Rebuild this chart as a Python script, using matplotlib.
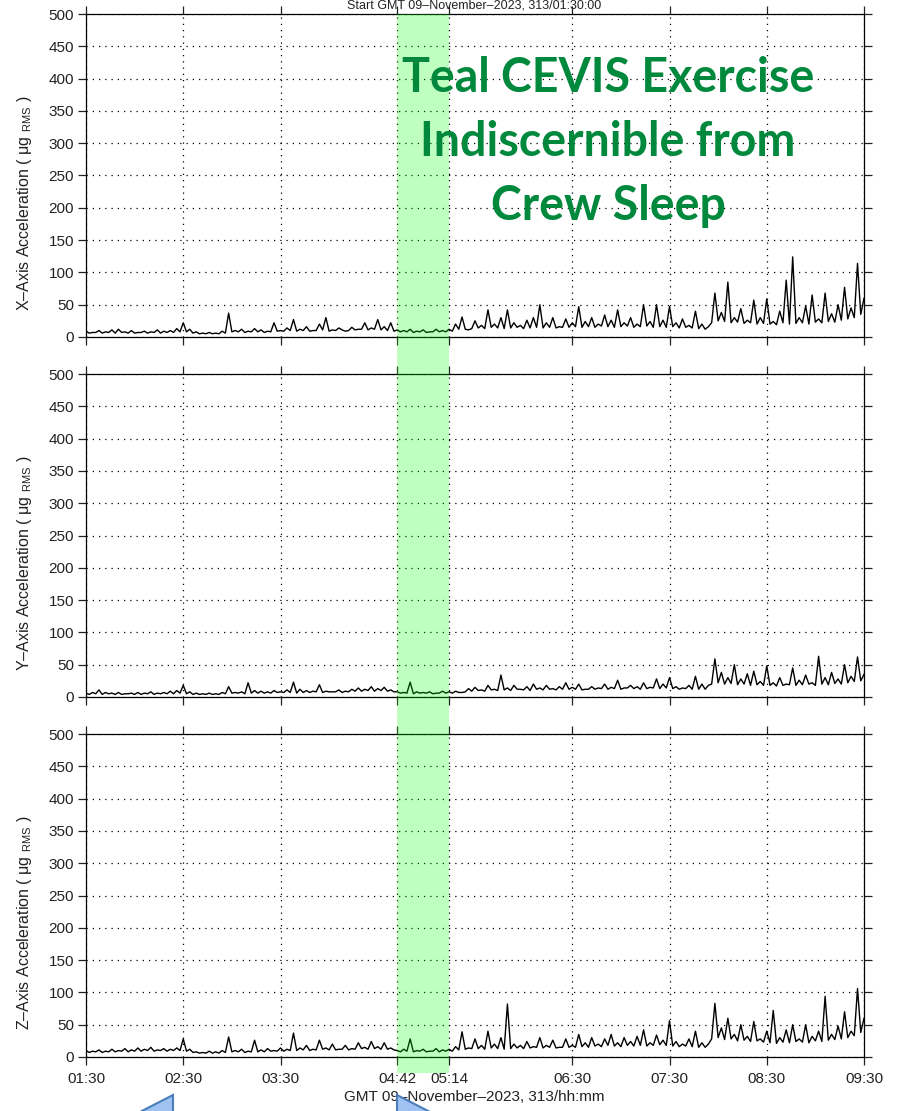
import numpy as np
import matplotlib
matplotlib.use('Agg')
import matplotlib.pyplot as plt
from matplotlib.patches import Rectangle, Polygon

plt.rcParams['font.family'] = ['Liberation Sans', 'DejaVu Sans']
plt.rcParams['mathtext.fontset'] = 'custom'
plt.rcParams['mathtext.rm'] = 'Liberation Sans'

# ─── DATA (minutes after 01:30 GMT) ────────────────────────────────────────────
# *_PEAK: band top read at t = 0, 4, 8 ... 480 ; *_FLOOR: band bottom at t = 2, 6 ... 478
T_START = 90          # 01:30 in minutes of day

X_PEAK = [9, 7, 10, 8, 11, 12, 8, 10, 7, 9, 8, 11, 9, 10, 13, 22, 12, 8, 6, 7,
          6, 9, 37, 10, 12, 9, 13, 11, 9, 22, 10, 14, 27, 12, 16, 10, 20, 30, 11, 14,
          9, 15, 12, 22, 14, 27, 16, 22, 11, 10, 12, 9, 11, 8, 12, 10, 12, 20, 31, 11,
          25, 18, 42, 20, 30, 42, 22, 18, 26, 30, 50, 22, 30, 16, 28, 22, 47, 24, 30, 20,
          34, 26, 42, 22, 30, 20, 50, 24, 50, 26, 47, 22, 28, 18, 40, 20, 16, 68, 38, 85,
          30, 44, 26, 57, 30, 59, 24, 40, 88, 124, 30, 48, 65, 28, 68, 36, 50, 77, 45, 114,
          60]
X_FLOOR = [6, 7, 6, 7, 6, 7, 6, 6, 7, 6, 7, 6, 7, 7, 8,
           8, 6, 5, 5, 5, 5, 6,
           8, 8, 7, 8, 8, 7, 8, 9,
           9, 10, 9, 10, 9, 10, 11, 9, 10, 11, 10, 11, 12, 11, 12, 11, 10, 9,
           8, 8, 7, 8, 7, 8, 8, 8,
           9, 12, 12, 13, 14, 13, 15, 14, 13, 14, 15, 13, 14, 15, 14, 15, 14, 15, 15,
           16, 15, 16, 15, 17, 16, 15, 16, 17, 15, 16, 17, 15, 16, 15, 16, 14, 15, 14, 13, 12,
           22, 25, 24, 22, 23, 21, 22, 20, 21,
           20, 19, 22, 20, 21, 22, 20, 23, 22, 24, 23, 26, 28, 30, 35]

Y_PEAK = [6, 7, 11, 7, 6, 7, 5, 6, 7, 6, 8, 6, 7, 9, 10, 18, 8, 6, 5, 6,
          5, 7, 16, 7, 8, 22, 10, 9, 8, 10, 8, 11, 23, 12, 10, 9, 19, 9, 8, 11,
          9, 12, 14, 12, 16, 13, 15, 11, 8, 7, 23, 8, 7, 8, 6, 9, 8, 9, 7, 13,
          15, 11, 18, 12, 34, 14, 18, 12, 16, 20, 14, 18, 13, 16, 22, 15, 20, 12, 16, 14,
          20, 15, 26, 14, 18, 16, 22, 15, 28, 20, 30, 16, 14, 18, 32, 20, 18, 59, 38, 30,
          50, 28, 36, 40, 24, 48, 22, 30, 20, 45, 26, 34, 22, 63, 30, 38, 28, 50, 32, 62,
          35]
Y_FLOOR = [4, 5, 4, 5, 4, 4, 5, 4, 4, 5, 4, 5, 5, 5, 6,
           5, 4, 4, 4, 4, 4, 5,
           6, 6, 5, 6, 6, 6, 6, 7,
           7, 7, 6, 7, 7, 8, 7, 8, 8, 7, 8, 9, 9, 10, 9, 10, 9, 8,
           6, 6, 5, 6, 6, 5, 6, 6,
           6, 7, 8, 9, 10, 9, 11, 10, 11, 10, 12, 11, 10, 12, 11, 12, 11, 12, 12,
           12, 11, 12, 12, 13, 12, 13, 12, 14, 13, 12, 13, 14, 13, 14, 13, 12, 13, 12, 12, 12,
           20, 22, 20, 21, 19, 20, 18, 19, 18,
           18, 17, 18, 19, 18, 19, 20, 18, 20, 19, 21, 20, 22, 24, 25]

Z_PEAK = [10, 9, 11, 9, 12, 10, 13, 11, 14, 12, 15, 11, 13, 12, 14, 28, 12, 8, 7, 9,
          8, 10, 31, 10, 12, 9, 26, 11, 13, 10, 14, 12, 37, 14, 18, 12, 26, 14, 20, 12,
          18, 13, 22, 15, 24, 16, 22, 14, 10, 12, 28, 10, 12, 9, 13, 11, 12, 16, 39, 14,
          28, 18, 40, 20, 30, 82, 20, 18, 24, 16, 30, 18, 26, 15, 28, 18, 35, 22, 30, 20,
          28, 35, 22, 30, 24, 32, 42, 22, 34, 26, 56, 24, 20, 28, 40, 22, 20, 83, 45, 60,
          35, 50, 32, 55, 28, 40, 72, 30, 42, 50, 28, 50, 32, 40, 94, 35, 48, 70, 40, 106,
          60]
Z_FLOOR = [7, 8, 7, 8, 8, 9, 8, 9, 9, 10, 9, 10, 9, 10, 10,
           9, 7, 6, 6, 6, 6, 7,
           8, 8, 7, 8, 8, 8, 9, 9,
           9, 10, 10, 11, 10, 11, 12, 11, 11, 12, 11, 12, 13, 12, 13, 12, 12, 11,
           8, 9, 8, 9, 8, 9, 8, 9,
           9, 11, 12, 13, 13, 12, 14, 13, 12, 13, 14, 13, 14, 15, 14, 15, 14, 15, 15,
           15, 16, 15, 17, 16, 18, 17, 16, 18, 17, 18, 17, 18, 19, 18, 17, 16, 17, 16, 15, 15,
           28, 30, 27, 28, 25, 26, 24, 25, 23,
           22, 21, 23, 22, 24, 23, 22, 25, 24, 26, 27, 28, 30, 33, 38]

TICK_MIN = [90, 150, 210, 282, 314, 390, 450, 510, 570]
TICK_LABELS = ['01:30', '02:30', '03:30', '04:42', '05:14', '06:30', '07:30', '08:30', '09:30']
SPAN_MIN = (282, 314)   # Teal CEVIS exercise window

AXES = [('X', X_PEAK, X_FLOOR), ('Y', Y_PEAK, Y_FLOOR), ('Z', Z_PEAK, Z_FLOOR)]

# ─── FIGURE ────────────────────────────────────────────────────────────────────
W, H = 899, 1111
fig = plt.figure(figsize=(W / 100, H / 100), dpi=100)

left, right = 86 / W, 864 / W
panel_px = [(14, 337), (374, 697), (734, 1057)]
t = np.arange(0, 481, 2) + T_START
ink = '#222222'

for i, ((name, peak, floor), (top_px, bot_px)) in enumerate(zip(AXES, panel_px)):
    vals = np.empty(len(t))
    vals[0::2] = peak
    vals[1::2] = floor

    ax = fig.add_axes([left, 1 - bot_px / H, right - left, (bot_px - top_px) / H])
    ax.set_facecolor('none')
    ax.plot(t, vals, color='black', linewidth=1.0)
    ax.set_xlim(T_START, 570)
    ax.set_ylim(0, 500)
    ax.set_yticks(range(0, 501, 50))
    ax.set_xticks(TICK_MIN)
    if i == 2:
        ax.set_xticklabels(TICK_LABELS)
    else:
        ax.set_xticklabels([])
    ax.grid(True, color='black', linestyle=(0, (1, 4)), linewidth=0.9)
    ax.tick_params(direction='out', top=True, right=True, length=5.5, width=0.9,
                   labelsize=11, pad=3, colors=ink)
    ax.tick_params(axis='x', pad=5)
    for s in ax.spines.values():
        s.set_linewidth(0.9)
    fig.text(25 / W, 1 - (top_px + 189) / H,
             f'{name}\u2013Axis Acceleration ( \u03bcg $_{{\\mathrm{{RMS}}}}$ )',
             rotation=90, ha='center', va='center', fontsize=11.5, color=ink)

# Title (at the very top of the slide) and x label
fig.text(474 / W, 1.0, 'Start GMT 09\u2013November\u20132023, 313/01:30:00',
         ha='center', va='top', fontsize=9, color=ink)
fig.text(474 / W, 1 - 1097 / H, 'GMT 09\u2013November\u20132023, 313/hh:mm',
         ha='center', va='center', fontsize=11, color=ink)

# Green highlight column over all three panels
x0 = left + (SPAN_MIN[0] - T_START) / 480 * (right - left)
x1 = left + (SPAN_MIN[1] - T_START) / 480 * (right - left)
fig.add_artist(Rectangle((x0, 1 - 1073 / H), x1 - x0, (1073 - 14) / H,
                         transform=fig.transFigure, facecolor='#00ff00',
                         alpha=0.25, edgecolor='none', zorder=5))

# Annotation text
green = '#00893c'
for txt, ypx in [('Teal CEVIS Exercise', 78), ('Indiscernible from', 142), ('Crew Sleep', 206)]:
    fig.text(608 / W, 1 - ypx / H, txt, ha='center', va='center', fontsize=33.5,
             fontweight='bold', color=green, family='Lato', zorder=10)

# Blue arrow heads peeking in from below
for pts in [[(173, 1095), (173, 1113), (138, 1113)], [(397, 1095), (397, 1113), (432, 1113)]]:
    fig.add_artist(Polygon([(x / W, 1 - y / H) for x, y in pts], closed=True,
                           transform=fig.transFigure, facecolor='#9fc2f2',
                           edgecolor='#4a7ebb', linewidth=1.5, zorder=10))

fig.savefig('out.png', dpi=100)
